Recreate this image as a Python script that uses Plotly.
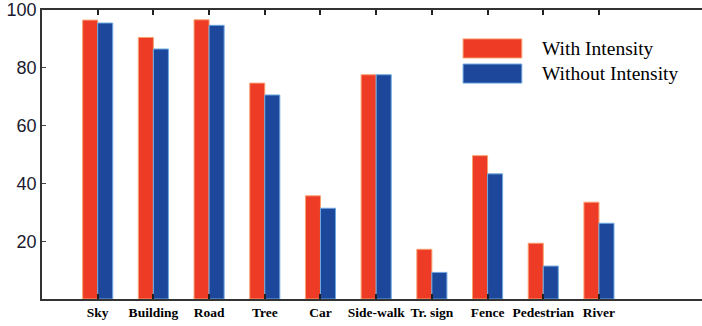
import plotly.graph_objects as go

categories = ["Sky", "Building", "Road", "Tree", "Car", "Side-walk", "Tr. sign", "Fence", "Pedestrian", "River"]
with_intensity = [96.5, 90.5, 96.6, 74.7, 35.7, 77.6, 17.2, 49.6, 19.3, 33.5]
without_intensity = [95.5, 86.5, 94.7, 70.6, 31.4, 77.6, 9.2, 43.3, 11.4, 26.2]
series_names = ["With Intensity", "Without Intensity"]
y_ticks = [20, 40, 60, 80, 100]

RED = "#EE3B25"
BLUE = "#1C479B"

xs = list(range(len(categories)))

fig = go.Figure()
fig.add_trace(go.Bar(x=xs, y=with_intensity, name=series_names[0],
                     marker=dict(color=RED, line=dict(color="#F7A070", width=1))))
fig.add_trace(go.Bar(x=xs, y=without_intensity, name=series_names[1],
                     marker=dict(color=BLUE, line=dict(color="#6FA8E0", width=1))))

fig.update_layout(
    width=702, height=326,
    margin=dict(l=42, r=0, t=10, b=27),
    paper_bgcolor="white", plot_bgcolor="white",
    barmode="group", bargap=0.46, bargroupgap=0,
    showlegend=False,
    xaxis=dict(
        range=[-1, 10.85], tickmode="array", tickvals=xs, ticktext=categories,
        showgrid=False, zeroline=False, automargin=False, tickangle=0,
        showline=True, linecolor="#333333", linewidth=1.5, mirror="ticks",
        ticks="inside", ticklen=5, tickwidth=1.5, tickcolor="#222222",
        tickfont=dict(family="Liberation Serif", size=13.5, color="black", weight="bold"),
    ),
    yaxis=dict(
        range=[0, 100], tickmode="array", tickvals=y_ticks,
        showgrid=False, zeroline=False, automargin=False,
        showline=True, linecolor="#333333", linewidth=1.5,
        ticks="inside", ticklen=4, tickwidth=1, tickcolor="#444444",
        tickfont=dict(family="Liberation Sans", size=18, color="#1a1a30"),
    ),
)

# Legend drawn with large swatches
swatch_x0, swatch_x1 = 0.638, 0.727
rows = [(0.900, 0.834, 0.866), (0.813, 0.747, 0.781)]
for (y1, y0, yc), name, col, lc in zip(rows, series_names, [RED, BLUE], ["#F7A070", "#6FA8E0"]):
    fig.add_shape(type="rect", xref="paper", yref="paper",
                  x0=swatch_x0, x1=swatch_x1, y0=y0, y1=y1,
                  fillcolor=col, line=dict(color=lc, width=1))
    fig.add_annotation(xref="paper", yref="paper", x=0.7545, y=yc,
                       text=name, showarrow=False, xanchor="left", yanchor="middle",
                       font=dict(family="Liberation Serif", size=19.5, color="black"))

fig.write_html("out.html", config={"displayModeBar": False},
               post_script="document.body.style.margin='0';document.body.style.overflow='hidden';")
